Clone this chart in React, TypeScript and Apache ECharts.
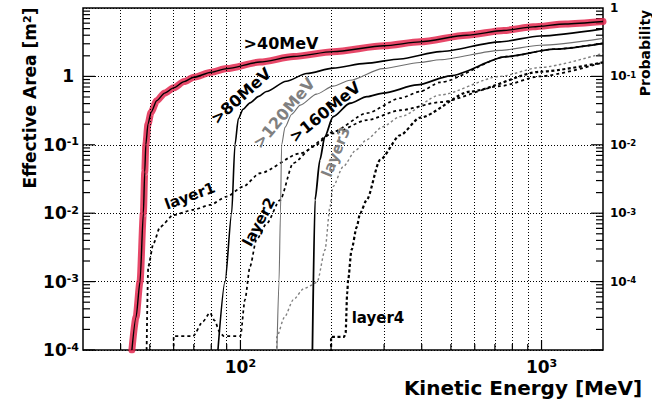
import React, { useEffect, useRef } from 'react';
import * as echarts from 'echarts';

const FONT = '"DejaVu Sans", "Liberation Sans", sans-serif';

// axis ranges
const xMin = 30;
const xMax = 1600;
const yMin = 1e-4;
const yMax = 10;
const probMin = 1e-5;
const probMax = 1;

// grid / tick positions
const gridEnergies = [40, 50, 60, 70, 80, 90, 100, 200, 300, 400, 500, 600, 700, 800, 900, 1000];
const majorEnergies = [100, 1000];
const tickDecades = [1e-4, 1e-3, 1e-2, 1e-1, 1];
const tickMultipliers = [1, 2, 3, 4, 5, 6, 7, 8, 9];

// curves: [kinetic energy MeV, effective area m^2]
const area40 = [[43.6, 1e-4], [45, 3e-4], [46.4, 1e-3], [47.6, 1e-2], [48.1, 0.04], [48.5, 0.1], [49.3, 0.2], [50.5, 0.3], [52.7, 0.44], [56, 0.57], [60, 0.68], [65, 0.84], [70, 0.97], [80, 1.15], [90, 1.3], [116, 1.62], [150, 1.95], [203, 2.3], [300, 2.8], [395, 3.2], [564, 4.0], [750, 4.7], [937, 5.3], [1200, 5.85], [1600, 6.35]];
const area80 = [[84.2, 1e-4], [88.9, 1e-3], [93.5, 1e-2], [95.9, 0.1], [98.4, 0.24], [102, 0.33], [107.6, 0.41], [115, 0.51], [122, 0.6], [142, 0.85], [166, 1.1], [203, 1.32], [260, 1.55], [339, 1.8], [460, 2.3], [728, 3.2], [988, 3.9], [1600, 4.95]];
const area120 = [[132.2, 1e-4], [134.3, 1e-3], [135.8, 1e-2], [137, 0.1], [140.6, 0.18], [148, 0.28], [158, 0.38], [179, 0.55], [203, 0.72], [231, 0.88], [297, 1.3], [395, 1.6], [460, 1.75], [728, 2.4], [988, 2.85], [1600, 3.6]];
const area160 = [[173.4, 1e-4], [176.9, 0.0156], [183.6, 0.06], [190.6, 0.131], [203, 0.257], [231, 0.405], [263, 0.505], [298, 0.57], [386, 0.75], [498, 1.02], [765, 1.94], [1100, 2.5], [1600, 3.05]];
const layer1 = [[48.8, 1e-4], [49.4, 1.65e-3], [51.4, 3.6e-3], [54.1, 6.3e-3], [59.9, 9.4e-3], [69.7, 0.0112], [79.2, 0.0132], [90, 0.0175], [102, 0.0244], [116, 0.0384], [158, 0.075], [203, 0.147], [263, 0.23], [339, 0.32], [460, 0.42], [728, 0.72], [988, 1.0], [1600, 1.6]];
const layer2 = [[60, 1e-5], [60, 1.6e-4], [69.6, 1.6e-4], [75, 2.6e-4], [79.2, 3.5e-4], [82, 2.7e-4], [85.5, 1.8e-4], [88, 1.6e-4], [100, 1.6e-4], [103.5, 5.4e-4], [107.6, 1.66e-3], [113, 4.1e-3], [122.3, 7.1e-3], [135.3, 0.0155], [149.8, 0.054], [174.6, 0.094], [203, 0.155], [263, 0.29], [339, 0.48], [395, 0.6], [460, 0.82], [765, 1.94], [1100, 2.5], [1600, 3.05]];
const layer3 = [[132, 1e-5], [132, 1.56e-4], [140, 3e-4], [149.8, 5.4e-4], [162.3, 7.9e-4], [173.4, 8.9e-4], [180, 1e-3], [190.9, 2.9e-3], [198.4, 0.0125], [203, 0.0245], [219.4, 0.048], [242, 0.084], [262, 0.118], [297, 0.184], [339, 0.258], [460, 0.535], [728, 1.0], [988, 1.35], [1600, 2.18]];
const layer4 = [[200, 1e-5], [200, 1.56e-4], [221, 1.56e-4], [223.5, 1.78e-4], [226.2, 6.7e-4], [227.9, 1.06e-3], [233.8, 2.9e-3], [243.4, 6.3e-3], [249.7, 0.01], [262.6, 0.0156], [290.8, 0.06], [339, 0.138], [395, 0.25], [579, 0.6], [988, 1.17], [1600, 1.6]];

const curveLabels = [
  { text: '>40MeV', x: 281, y: 43, rot: 0, color: '#000', size: 16 },
  { text: '>80MeV', x: 241, y: 96, rot: 42, color: '#000', size: 16 },
  { text: '>120MeV', x: 284, y: 113, rot: 50, color: '#808080', size: 16 },
  { text: '>160MeV', x: 325, y: 112, rot: 39, color: '#000', size: 16 },
  { text: 'layer1', x: 190, y: 196, rot: 20, color: '#000', size: 15 },
  { text: 'layer2', x: 259, y: 222, rot: 62, color: '#000', size: 15 },
  { text: 'layer3', x: 336, y: 152, rot: 68, color: '#808080', size: 15 },
  { text: 'layer4', x: 378, y: 318, rot: 0, color: '#000', size: 15 },
];

const expOf = (v: number) => Math.round(Math.log10(v));
const isPow10 = (v: number) => Math.abs(Math.log10(v) - Math.round(Math.log10(v))) < 1e-6;

export default function App() {
  const ref = useRef<HTMLDivElement>(null);
  useEffect(() => {
    if (!ref.current) return;
    const chart = echarts.init(ref.current, undefined, { renderer: 'svg' });

    const richBig = {
      b: { fontSize: 17, fontWeight: 'bold', fontFamily: FONT, color: '#000', lineHeight: 17 },
      one: { fontSize: 17, fontWeight: 'bold', fontFamily: FONT, color: '#000', lineHeight: 17, padding: [0, 5, 0, 0] },
      s: { fontSize: 11, fontWeight: 'bold', fontFamily: FONT, color: '#000', lineHeight: 9, verticalAlign: 'top' },
    };
    const richSmall = {
      b: { fontSize: 12, fontWeight: 'bold', fontFamily: FONT, color: '#000', lineHeight: 12 },
      s: { fontSize: 8.5, fontWeight: 'bold', fontFamily: FONT, color: '#000', lineHeight: 6, verticalAlign: 'top' },
    };

    // tick marks drawn as thin rect symbols placed through the axes' scales
    const tickItems: any[] = [];
    gridEnergies.forEach((e) => {
      const L = majorEnergies.includes(e) ? 10 : 6;
      tickItems.push({ value: [e, yMin], symbolSize: [1.2, L], symbolOffset: [0, -L / 2] });
    });
    tickDecades.forEach((d) =>
      tickMultipliers.forEach((m) => {
        const L = m === 1 ? 12 : 7;
        tickItems.push({ value: [xMin, m * d], symbolSize: [L, 1.2], symbolOffset: [L / 2, 0] });
        tickItems.push({ value: [xMax, m * d], symbolSize: [L, 1.2], symbolOffset: [-L / 2, 0] });
      })
    );

    const lineSeries = (name: string, data: number[][], style: any, z = 3) => ({
      name,
      type: 'line',
      data,
      symbol: 'none',
      showSymbol: false,
      clip: true,
      smooth: 0.25,
      smoothMonotone: 'x',
      lineStyle: style,
      z,
      silent: true,
    });

    chart.setOption({
      animation: false,
      backgroundColor: '#fff',
      grid: { left: 83, right: 49, top: 8, bottom: 49, show: true, borderColor: '#000', borderWidth: 1.5, backgroundColor: 'transparent' },
      xAxis: {
        type: 'log',
        logBase: 10,
        min: xMin,
        max: xMax,
        axisLine: { show: false },
        axisTick: { show: false },
        splitLine: { show: false },
        axisLabel: {
          margin: 8,
          formatter: (v: number) => (isPow10(v) ? `{b|10}{s|${expOf(v)}}` : ''),
          rich: richBig,
        },
      },
      yAxis: [
        {
          type: 'log',
          logBase: 10,
          min: yMin,
          max: yMax,
          axisLine: { show: false },
          axisTick: { show: false },
          splitLine: { show: true, lineStyle: { color: '#000', width: 1, type: [1, 2] } },
          axisLabel: {
            margin: 4,
            formatter: (v: number) => {
              const e = expOf(v);
              if (e >= 1) return '';
              if (e === 0) return '{one|1}';
              return `{b|10}{s|${e}}`;
            },
            rich: richBig,
          },
        },
        {
          type: 'log',
          logBase: 10,
          min: probMin,
          max: probMax,
          position: 'right',
          axisLine: { show: false },
          axisTick: { show: false },
          splitLine: { show: false },
          axisLabel: {
            margin: 7,
            formatter: (v: number) => {
              const e = expOf(v);
              if (e <= -5) return '';
              if (e === 0) return '{b|1}';
              return `{b|10}{s|${e}}`;
            },
            rich: richSmall,
          },
        },
      ],
      series: [
        {
          name: 'grid',
          type: 'line',
          data: [],
          silent: true,
          z: 1,
          markLine: {
            silent: true,
            symbol: ['none', 'none'],
            label: { show: false },
            lineStyle: { color: '#000', width: 1, type: [1, 2], opacity: 1 },
            emphasis: { disabled: true },
            data: gridEnergies.map((e) => ({ xAxis: e })),
          },
        },
        {
          name: 'ticks',
          type: 'scatter',
          symbol: 'rect',
          silent: true,
          clip: false,
          z: 2,
          itemStyle: { color: '#000', opacity: 1 },
          data: tickItems,
        },
        lineSeries('layer4', layer4, { color: '#000', width: 2.2, type: [3, 2.5] }),
        lineSeries('layer3', layer3, { color: '#808080', width: 1.4, type: [2.5, 2.5] }),
        lineSeries('layer2', layer2, { color: '#000', width: 1.7, type: [3, 3] }),
        lineSeries('layer1', layer1, { color: '#000', width: 1.8, type: [3, 3] }),
        lineSeries('>160MeV', area160, { color: '#000', width: 1.8 }),
        lineSeries('>120MeV', area120, { color: '#6e6e6e', width: 1.1 }),
        lineSeries('>80MeV', area80, { color: '#000', width: 1.6 }),
        lineSeries('>40MeV band', area40, { color: '#e3284f', width: 7, opacity: 0.85, cap: 'round', join: 'round' }, 4),
        lineSeries('>40MeV', area40, { color: '#000', width: 1.4 }, 5),
      ],
      graphic: [
        ...curveLabels.map((l) => ({
          type: 'text',
          x: l.x,
          y: l.y,
          rotation: (l.rot * Math.PI) / 180,
          z: 10,
          style: { text: l.text, fill: l.color, font: `bold ${l.size}px ${FONT}`, align: 'center', verticalAlign: 'middle' },
        })),
        {
          type: 'text',
          x: 30,
          y: 98,
          rotation: Math.PI / 2,
          z: 10,
          style: {
            text: '{a|Effective Area [m}{s|2}{a|]}',
            align: 'center',
            verticalAlign: 'middle',
            rich: {
              a: { fontSize: 17, fontWeight: 'bold', fontFamily: FONT, fill: '#000', lineHeight: 17 },
              s: { fontSize: 11, fontWeight: 'bold', fontFamily: FONT, fill: '#000', lineHeight: 8, verticalAlign: 'top' },
            },
          },
        },
        {
          type: 'text',
          x: 523,
          y: 387.5,
          z: 10,
          style: { text: 'Kinetic Energy [MeV]', fill: '#000', font: `bold 20px ${FONT}`, align: 'center', verticalAlign: 'middle' },
        },
        {
          type: 'text',
          x: 645,
          y: 53,
          rotation: Math.PI / 2,
          z: 10,
          style: { text: 'Probability', fill: '#000', font: `bold 14px ${FONT}`, align: 'center', verticalAlign: 'middle' },
        },
      ],
    });
    return () => chart.dispose();
  }, []);
  return <div ref={ref} style={{ position: 'fixed', left: 0, top: 0, width: 652, height: 399, background: '#fff' }} />;
}
